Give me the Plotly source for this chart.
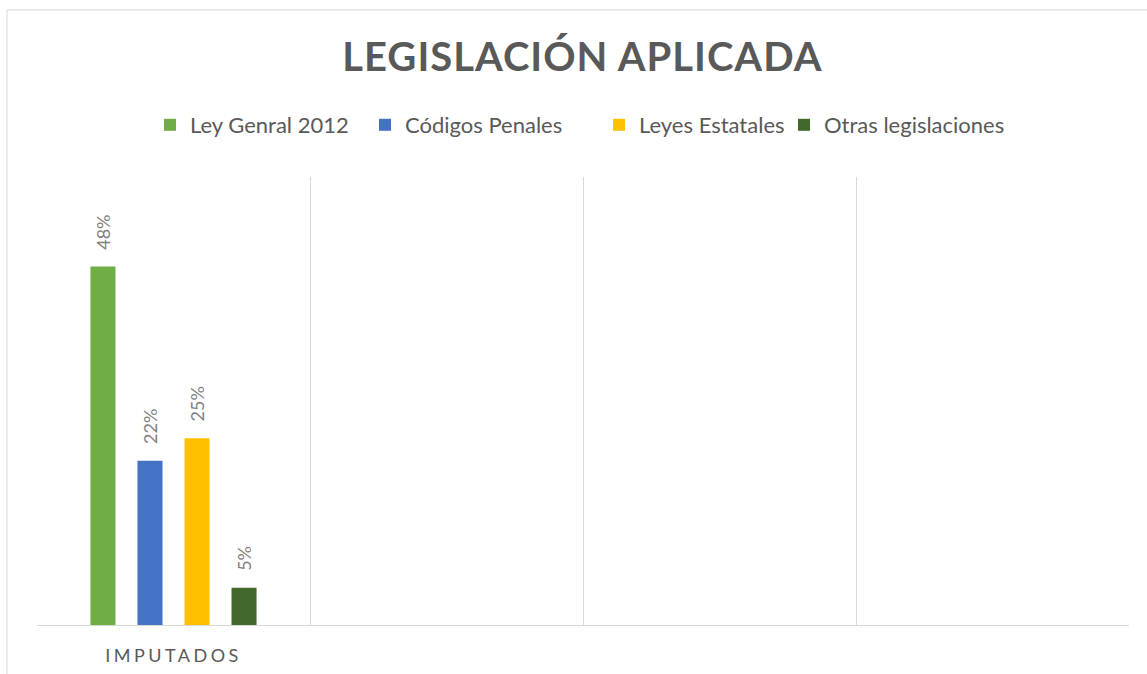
import plotly.graph_objects as go

categories = ["IMPUTADOS", "cat2", "cat3", "cat4"]
tick_labels = ["IMPUTADOS", "", "", ""]
series_names = ["Ley Genral 2012", "Códigos Penales", "Leyes Estatales", "Otras legislaciones"]
series_values = [[0.48], [0.22], [0.25], [0.05]]
colors = ["#70AD47", "#4472C4", "#FFC000", "#43682B"]

W, H = 1147, 674
legend_sym_px = [174, 389, 623, 808]  # legend symbol centres (pixels)
legend_ids = ["legend", "legend2", "legend3", "legend4"]

NB = "\u00a0"
fig = go.Figure()
for name, vals, col, lid in zip(series_names, series_values, colors, legend_ids):
    fig.add_trace(go.Bar(
        x=categories[:len(vals)], y=vals, name=name, legend=lid,
        marker=dict(color=col, line=dict(width=0)),
        text=[NB * 3 + f"{v:.0%}" for v in vals],
        textposition="outside", textangle=-90,
        textfont=dict(family="Lato", size=18, color="#7F7F7F"),
        cliponaxis=False, constraintext="none",
    ))

legend_common = dict(orientation="h", xanchor="left", xref="container", yref="container",
                     y=1 - 125 / H, yanchor="middle",
                     font=dict(family="Lato", size=22, color="#595959"),
                     itemclick=False, bgcolor="rgba(0,0,0,0)", borderwidth=0)
legends = {}
for lid, px in zip(legend_ids, legend_sym_px):
    legends[lid] = dict(legend_common, x=(px - 4 - 20) / W)

fig.update_layout(
    width=W, height=H,
    margin=dict(l=37, r=18, t=177, b=49, autoexpand=False),
    paper_bgcolor="white", plot_bgcolor="white",
    barmode="group", bargap=0.311, bargroupgap=0.468,
    title=dict(text="<b>LEGISLACIÓN APLICADA</b>", x=0.5077, xanchor="center",
               y=1 - 57 / H, yanchor="middle",
               font=dict(family="Lato", size=40, color="#595959")),
    showlegend=True,
    xaxis=dict(type="category", categoryorder="array", categoryarray=categories,
               range=[-0.5, 3.5], tickvals=categories, ticktext=tick_labels,
               tickson="boundaries", showgrid=True, gridcolor="#D9D9D9", gridwidth=1,
               showline=True, linecolor="#D9D9D9", linewidth=1, ticks="",
               ticklabelstandoff=14, automargin=False,
               tickfont=dict(family="Lato", size=18, color="#595959"), fixedrange=True),
    yaxis=dict(range=[0, 0.6], showgrid=False, showticklabels=False, zeroline=False,
               showline=False, fixedrange=True, automargin=False),
    shapes=[dict(type="rect", xref="paper", yref="paper",
                 x0=-0.0275, x1=1.02, y0=-0.13, y1=1.3728,
                 line=dict(color="#D9D9D9", width=1), fillcolor="rgba(0,0,0,0)", layer="below")],
    **legends,
)

post = """
document.body.style.margin = '0';
var gd = document.getElementById('{plot_id}');
function spacing() {
  var t = gd.querySelectorAll('.gtitle');
  t.forEach(function (e) { e.style.letterSpacing = '1px'; });
  var x = gd.querySelectorAll('.xtick text');
  x.forEach(function (e) { e.style.letterSpacing = '3.5px'; });
}
spacing();
gd.on('plotly_afterplot', spacing);
"""

fig.write_html("out.html", post_script=post, config={"displayModeBar": False})
